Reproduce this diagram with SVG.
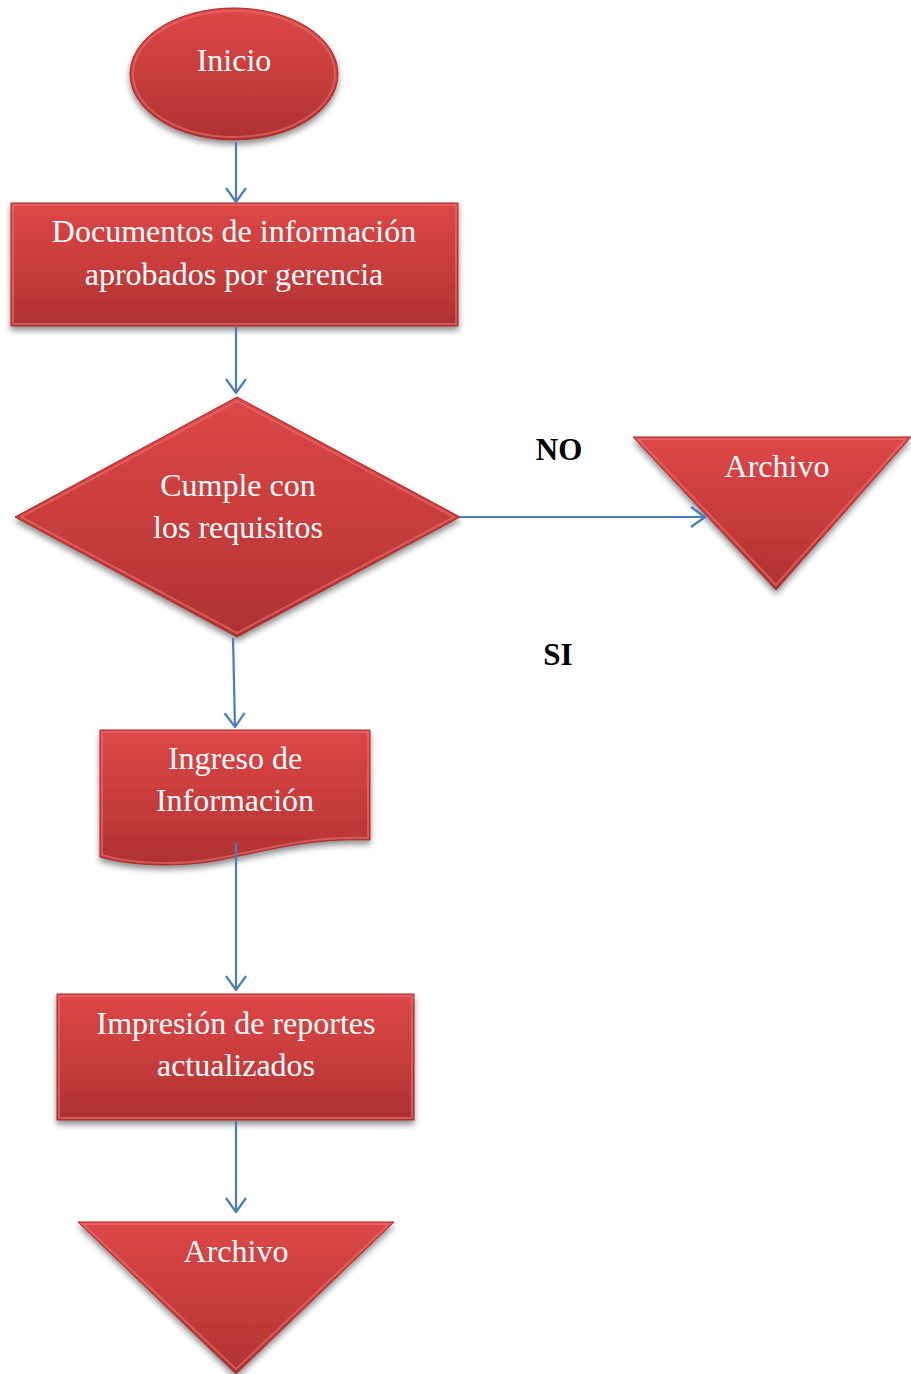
<svg xmlns="http://www.w3.org/2000/svg" width="911" height="1374" viewBox="0 0 911 1374">
  <defs>
    <linearGradient id="redFill" x1="0" y1="0" x2="0" y2="1">
      <stop offset="0" stop-color="#dc4747"/>
      <stop offset="0.5" stop-color="#c93d3d"/>
      <stop offset="1" stop-color="#ae3232"/>
    </linearGradient>
    <filter id="shadow" x="-10%" y="-10%" width="120%" height="130%">
      <feGaussianBlur in="SourceAlpha" stdDeviation="3"/>
      <feOffset dx="0" dy="4" result="b"/>
      <feComponentTransfer><feFuncA type="linear" slope="0.45"/></feComponentTransfer>
      <feMerge><feMergeNode/><feMergeNode in="SourceGraphic"/></feMerge>
    </filter>
    <marker id="arrow" viewBox="0 0 16 22" refX="15" refY="11" markerWidth="16" markerHeight="22" markerUnits="userSpaceOnUse" orient="auto">
      <path d="M1,1 L15,11 L1,21" fill="none" stroke="#4a7ebb" stroke-width="2.2"/>
    </marker>
  </defs>
  <style>
    .shape { fill: url(#redFill); stroke: #a32e2e; stroke-width: 1; filter: url(#shadow); }
    .bevel { fill: none; stroke: #ee7070; stroke-width: 2; stroke-opacity: 0.6; }
    .label { font-family: "Liberation Serif", "Times New Roman", serif; font-size: 32px; fill: #ffffff; text-anchor: middle; }
    .tag { font-family: "Liberation Serif", "Times New Roman", serif; font-size: 31px; font-weight: bold; fill: #000000; text-anchor: middle; }
    .conn { stroke: #4a7ebb; stroke-width: 2.2; fill: none; marker-end: url(#arrow); }
  </style>

  <rect width="911" height="1374" fill="#ffffff"/>

  <g id="inicio">
    <ellipse class="shape" cx="234" cy="74" rx="104" ry="66"/>
    <ellipse class="bevel" cx="234" cy="74" rx="101" ry="63"/>
    <text class="label" x="234" y="71">Inicio</text>
  </g>

  <g id="documentos">
    <rect class="shape" x="11" y="203" width="447" height="123"/>
    <rect class="bevel" x="13" y="205" width="443" height="119"/>
    <text class="label" x="234" y="242">Documentos de información</text>
    <text class="label" x="234" y="285">aprobados por gerencia</text>
  </g>

  <g id="decision">
    <polygon class="shape" points="237,397 460,517 237,637 15,517"/>
    <polygon class="bevel" points="237,401 454,517 237,633 21,517"/>
    <text class="label" x="238" y="496">Cumple con</text>
    <text class="label" x="238" y="538">los requisitos</text>
  </g>

  <g id="archivo-no">
    <polygon class="shape" points="633,437 911,437 776,590"/>
    <polygon class="bevel" points="638,439 906,439 776,585"/>
    <text class="label" x="777" y="477">Archivo</text>
  </g>

  <text class="tag" x="559" y="460">NO</text>
  <text class="tag" x="558" y="665">SI</text>

  <g id="ingreso">
    <path class="shape" d="M100,730 L370,730 L370,840 C310,838 270,850 220,860 C180,868 130,866 100,857 Z"/>
    <path class="bevel" d="M102,732 L368,732 L368,838 C310,836 270,848 220,858 C180,866 130,864 102,855 Z"/>
    <text class="label" x="235" y="769">Ingreso de</text>
    <text class="label" x="235" y="811">Información</text>
  </g>

  <g id="impresion">
    <rect class="shape" x="57" y="994" width="357" height="126"/>
    <rect class="bevel" x="59" y="996" width="353" height="122"/>
    <text class="label" x="236" y="1034">Impresión de reportes</text>
    <text class="label" x="236" y="1076">actualizados</text>
  </g>

  <g id="archivo-fin">
    <polygon class="shape" points="78,1222 394,1222 236,1374"/>
    <polygon class="bevel" points="83,1224 389,1224 236,1369"/>
    <text class="label" x="236" y="1262">Archivo</text>
  </g>

  <!-- connectors drawn last so the line leaving the document shape shows over it -->
  <g id="connectors">
    <line class="conn" x1="236" y1="142" x2="236" y2="202"/>
    <line class="conn" x1="236" y1="327" x2="236" y2="393"/>
    <line class="conn" x1="460" y1="517" x2="705" y2="517"/>
    <line class="conn" x1="233" y1="638" x2="235" y2="727"/>
    <line class="conn" x1="236" y1="843" x2="236" y2="990"/>
    <line class="conn" x1="236" y1="1121" x2="236" y2="1212"/>
  </g>
</svg>
